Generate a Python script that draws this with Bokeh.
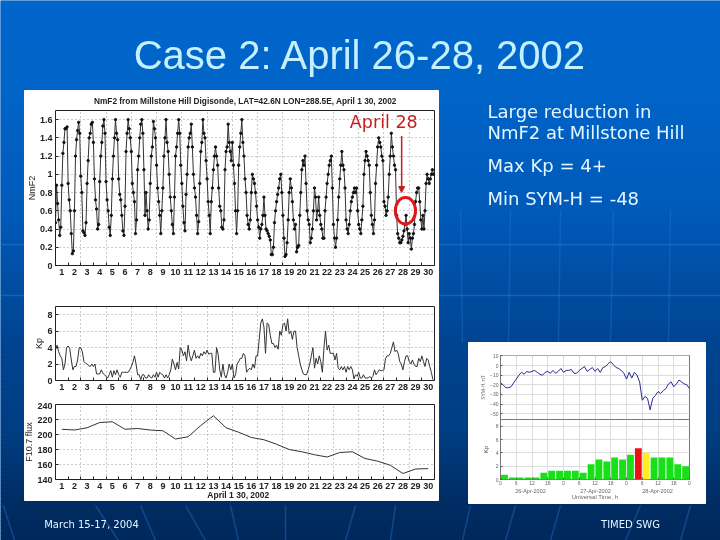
from bokeh.plotting import figure
from bokeh.embed import file_html
from bokeh.resources import INLINE
from bokeh.layouts import column
from bokeh.models import FixedTicker, Range1d, Arrow, NormalHead
from bokeh.core.properties import value
import numpy as np

# --- chart data -------------------------------------------------------------
NMF2 = [
 .47,.88,.68,.50,.33,.42,.88,1.23,1.35,1.50,1.50,1.52,
 .90,.72,.60,.35,.13,.16,.60,1.20,1.38,1.48,1.57,1.45,
 .98,.80,.38,.36,.33,.47,.90,1.15,1.40,1.45,1.55,1.57,
 1.35,.95,.72,.62,.40,.45,.92,1.20,1.35,1.53,1.60,1.45,
 .92,.72,.60,.42,.33,.55,.95,1.20,1.40,1.60,1.45,1.38,
 .95,.78,.72,.55,.38,.33,.65,1.25,1.45,1.60,1.50,1.40,
 1.25,.90,.80,.70,.35,.50,1.05,1.20,1.40,1.55,1.60,1.45,
 1.05,.55,.80,.60,.40,.50,.90,1.20,1.30,1.58,1.50,1.40,
 1.10,.85,.70,.55,.35,.60,.85,1.20,1.40,1.60,1.35,1.25,
 1.00,.75,.60,.45,.35,.75,1.20,1.30,1.45,1.60,1.45,1.10,
 .90,.65,.47,.38,.78,1.00,1.30,1.40,1.45,1.55,1.30,1.00,
 .85,.75,.55,.35,.48,.90,1.25,1.35,1.60,1.45,1.40,1.15,
 .95,.70,.55,.35,.70,.85,1.05,1.20,1.30,1.20,1.10,.85,
 .65,.60,.42,.40,.50,1.05,1.25,1.30,1.55,1.35,1.25,1.15,
 1.35,1.10,.90,.60,.35,.60,1.10,1.30,1.45,1.60,1.35,1.20,
 .95,.80,.55,.45,.40,.50,.80,1.00,.95,.90,.80,.65,
 .50,.42,.30,.40,.45,.55,.75,.55,.40,.38,.35,.32,
 .28,.12,.12,.20,.47,.60,.70,.78,.85,.95,1.00,.80,
 .55,.30,.10,.12,.25,.50,.80,.95,.85,.70,.50,.40,
 .45,.15,.20,.22,.55,.80,1.05,1.15,1.10,1.20,.90,.60,
 .50,.45,.25,.30,.40,.60,.85,.75,.50,.60,.75,.55,
 .45,.40,.30,.30,.60,.75,.90,1.00,1.10,1.15,1.20,.85,
 .45,.30,.20,.30,.50,.75,.95,1.10,1.25,1.10,1.05,.85,
 .50,.40,.35,.45,.60,.70,.75,.80,.85,.80,.85,.60,
 .45,.40,.35,.50,.65,1.00,1.15,1.25,1.20,1.15,1.10,.80,
 .55,.45,.35,.50,.90,1.10,1.30,1.40,1.35,1.30,1.20,1.15,
 .70,.65,.55,.60,.75,1.00,1.20,1.45,1.30,1.20,1.10,1.05,
 .55,.35,.30,.25,.25,.28,.32,.38,.45,.55,.40,.25,
 .35,.30,.18,.30,.35,.45,.70,.80,.85,.85,.70,.50,
 .40,.55,.40,.60,.90,1.00,.95,.90,.95,1.00,1.05,1.00,
]
KP = [
 3.7,4.3,3.5,3.0,2.7,1.3,2.0,4.0, 4.2,3.9,2.5,1.3,1.7,1.7,2.5,4.0,
 4.0,3.5,2.3,2.1,2.0,1.8,1.7,2.0, 1.7,2.0,.8,.8,.8,1.3,.9,.7,
 .5,.3,.7,1.2,.4,1.2,.7,1.3, .7,.4,1.0,1.0,1.0,1.0,1.0,1.3,
 1.7,2.2,3.0,2.0,.7,.7,.1,.7, .7,.3,.3,.7,.4,.3,.7,.4,
 1.0,.4,1.0,.8,.7,.3,.7,.3, .7,1.3,2.6,2.0,1.3,2.2,1.4,4.0,
 3.7,3.0,3.5,2.4,4.3,3.0,2.4,3.0, 3.7,2.7,3.0,2.7,3.3,3.0,3.5,3.2,
 3.7,3.2,3.3,3.3,1.0,1.0,4.0,3.2, 1.3,.4,2.0,.7,.3,1.0,2.0,1.3,
 2.0,.3,.7,2.0,2.3,2.7,2.7,3.3, 3.0,1.0,1.3,1.5,1.3,2.0,1.5,3.0,
 3.0,5.0,7.0,7.5,6.5,3.3,7.0,6.8, 5.5,4.5,4.5,4.0,4.3,3.8,6.0,5.5,
 6.8,7.0,6.0,7.5,5.7,6.0,5.0,6.0, 6.0,4.0,3.0,2.0,1.3,.8,.7,.7,
 1.3,2.0,3.0,4.0,1.5,2.7,2.0,3.0, 2.3,1.0,4.0,6.0,3.7,4.3,3.3,3.3,
 3.3,2.5,3.3,1.5,1.3,1.7,1.3,1.7, 1.0,1.7,1.3,1.7,1.3,.2,.7,.5,
 1.0,.3,.3,.7,.3,.3,.3,.5, .3,.5,1.3,.7,1.0,1.3,1.2,1.2,
 1.3,2.7,3.0,3.0,3.3,4.0,4.7,3.5, 3.7,3.3,2.3,2.0,1.3,2.3,3.0,3.0,
 2.3,2.0,2.5,2.0,1.7,1.7,2.7,2.3, 3.0,2.3,1.7,2.7,2.5,1.7,1.0,.1,
]
F107 = [207,206,209,216,217,207,208,206,205,194,197,212,225,209,203,
        196,193,187,180,177,173,170,176,177,168,164.5,159,148,154,154.5]
SYMH = [-18,-20,-23,-23,-22,-18,-14,-10,-7,-9,-6,-7,-6,-5,-7,-9,-10,-7,-6,-8,-5,-8,-6,-3,
        -7,-5,-5,-4,-8,-8,-5,-3,-1,-6,-4,-2,-6,-3,-7,-2,-1,2,4,1,-2,-3,-5,-8,
        -14,-7,-13,-7,-10,-17,-36,-32,-34,-46,-34,-31,-27,-29,-26,-24,-19,-17,-22,-19,-15,-17,-19,-20,-24]
KP3 = [.7,.3,.3,.3,.3,1,1.3,1.3,1.3,1.3,1,2.3,3,2.7,3.3,3,3.7,4.7,4,3.3,3.3,3.3,2.3,2]
HOUR_LABELS = ["0","6","12","18","0","6","12","18","0","6","12","18","0"]
DATES = ["26-Apr-2002", "27-Apr-2002", "28-Apr-2002"]

# --- helpers ----------------------------------------------------------------
LBL = "#222222"

def place(p, left, top):
    p.styles = {"position": "absolute", "left": f"{left}px", "top": f"{top}px"}
    p.frame_align = False
    return p

def panel(x0, x1, ytop, ybot, ylim, pad):
    pl, pr, pt, pb = pad
    return figure(width=x1 - x0 + pl + pr, height=ybot - ytop + pt + pb,
                  x_range=Range1d(1, 31), y_range=Range1d(*ylim),
                  toolbar_location=None, output_backend="svg",
                  min_border_left=pl, min_border_right=pr, min_border_top=pt, min_border_bottom=pb,
                  background_fill_alpha=0, border_fill_alpha=0,
                  outline_line_color="#222222", outline_line_width=1)

def day_axes(p):
    ax = p.xaxis[0]
    ax.ticker = FixedTicker(ticks=[d + .5 for d in range(1, 31)], minor_ticks=list(range(1, 32)))
    ax.major_label_overrides = {d + .5: str(d) for d in range(1, 31)}
    ax.major_tick_in = 0; ax.major_tick_out = 0
    ax.minor_tick_in = 3; ax.minor_tick_out = 0
    ax.minor_tick_line_color = "#222222"
    ax.axis_line_color = None
    ax.major_label_text_font = "Liberation Sans"
    ax.major_label_text_font_size = "9px"
    ax.major_label_text_font_style = "bold"
    ax.major_label_text_color = LBL
    ax.major_label_standoff = 3
    p.xgrid.ticker = FixedTicker(ticks=list(range(3, 31, 2)))
    p.xgrid.grid_line_color = "#999999"
    p.xgrid.grid_line_dash = "1 3"

def y_axes(p, ticks, fmt=None, label=None):
    ax = p.yaxis[0]
    ax.ticker = FixedTicker(ticks=ticks)
    if fmt: ax.major_label_overrides = fmt
    ax.major_tick_in = 3; ax.major_tick_out = 0
    ax.major_tick_line_color = "#222222"
    ax.minor_tick_line_color = None
    ax.axis_line_color = None
    ax.major_label_text_font = "Liberation Sans"
    ax.major_label_text_font_size = "9px"
    ax.major_label_text_font_style = "bold"
    ax.major_label_text_color = LBL
    ax.major_label_standoff = 3
    if label:
        ax.axis_label = label
        ax.axis_label_text_font = "Liberation Sans"
        ax.axis_label_text_font_size = "9px"
        ax.axis_label_text_font_style = "normal"
        ax.axis_label_text_color = LBL
        ax.axis_label_standoff = 0
    p.ygrid.ticker = FixedTicker(ticks=ticks)
    p.ygrid.grid_line_color = "#999999"
    p.ygrid.grid_line_dash = "1 3"

# --- slide background -------------------------------------------------------
bg = figure(width=720, height=540, x_range=Range1d(0, 720), y_range=Range1d(540, 0),
            toolbar_location=None, output_backend="svg",
            min_border_left=0, min_border_right=0, min_border_top=0, min_border_bottom=0,
            x_axis_location=None, y_axis_location=None,
            outline_line_color=None, background_fill_color="#0060c0")
bg.grid.visible = False
stops = [(0, (0, 102, 204)), (90, (0, 100, 200)), (210, (0, 90, 185)), (340, (0, 68, 145)),
         (430, (0, 62, 130)), (500, (0, 45, 100)), (540, (0, 40, 90))]
ys = np.arange(0, 540, 4)
bg.quad(left=0, right=720, top=ys, bottom=ys + 5, line_color=None,
        fill_color=["#%02x%02x%02x" % tuple(int(np.interp(y, [s[0] for s in stops], [s[1][c] for s in stops]))
                                             for c in range(3)) for y in ys])
# faint streaks of the slide template
bg.multi_line(xs=[[0, 720], [0, 720]], ys=[[244, 244], [295, 295]], line_color="#2a80e0", line_alpha=.45, line_width=1.5)
fan_top = [460, 510, 560, 613, 670]
fan_bot = [462, 508, 558, 610, 668]
bg.multi_line(xs=[[a, b] for a, b in zip(fan_top, fan_bot)], ys=[[210, 342]] * 5,
              line_color="#2a80e0", line_alpha=.3, line_width=1.5)
low_a = [3, 95, 140, 185, 230, 285, 355, 395, 470, 515, 560, 640, 690]
low_b = [14, 118, 155, 205, 238, 285, 345, 390, 462, 505, 550, 625, 680]
bg.multi_line(xs=[[a, b] for a, b in zip(low_a, low_b)], ys=[[505, 540]] * len(low_a),
              line_color="#2a80e0", line_alpha=.35, line_width=1.5)
# white picture panels
bg.quad(left=[24, 468], right=[438, 705], top=[90, 342], bottom=[500, 503], color="white")
# slide texts
bg.text(x=[360], y=[54], text=["Case 2: April 26-28, 2002"], text_align="center", text_baseline="middle",
        text_font=value("Liberation Sans"), text_font_size="40px", text_color="#c4f0ff")
bg.text(x=[487, 487, 487, 487], y=[111, 132, 165, 198],
        text=["Large reduction in", "NmF2 at Millstone Hill", "Max Kp = 4+", "Min SYM-H = -48"],
        text_align="left", text_baseline="middle", text_font=value("DejaVu Sans"),
        text_font_size="18px", text_color="#e4f6ff")
bg.text(x=[91, 630], y=[524, 524], text=["March 15-17, 2004", "TIMED SWG"], text_align="center",
        text_baseline="middle", text_font=value("DejaVu Sans"), text_font_size="10px", text_color="#e4f6ff")
# panel headings
bg.text(x=[246], y=[100], text=["NmF2 from Millstone Hill Digisonde, LAT=42.6N LON=288.5E, April 1  30, 2002"],
        text_align="center", text_baseline="middle", text_font=value("Liberation Sans"),
        text_font_size="8.3px", text_font_style="bold", text_color=LBL)
bg.text(x=[239], y=[494.5], text=["April 1  30, 2002"], text_align="center", text_baseline="middle",
        text_font=value("Liberation Sans"), text_font_size="8.5px", text_font_style="bold", text_color=LBL)

# --- NmF2 -------------------------------------------------------------------
PAD = (40, 4, 2, 18)
t_nm = 1 + np.arange(len(NMF2)) / 12
f1 = panel(55, 434, 110, 265, (0, 1.7), PAD)
f1.line(t_nm, NMF2, line_color="#333333", line_width=1)
f1.scatter(t_nm, NMF2, size=2.4, color="#111111")
day_axes(f1)
y_axes(f1, [0, .2, .4, .6, .8, 1, 1.2, 1.4, 1.6],
       {0: "0", .2: "0.2", .4: "0.4", .6: "0.6", .8: "0.8", 1: "1", 1.2: "1.2", 1.4: "1.4", 1.6: "1.6"}, "NmF2")
f1.text(x=[24.3], y=[1.57], text=["April 28"], text_align="left", text_baseline="middle",
        text_font=value("DejaVu Sans"), text_font_size="17.5px", text_color="#c41e1e")
f1.add_layout(Arrow(end=NormalHead(size=6, fill_color="#c41e1e", line_color="#c41e1e"),
                    x_start=28.4, y_start=1.42, x_end=28.4, y_end=.8, line_color="#c41e1e", line_width=1.5))
f1.ellipse(x=[28.7], y=[.6], width=[1.6], height=[.29], fill_alpha=0, line_color="#e01818", line_width=3)
place(f1, 55 - PAD[0], 110 - PAD[2])

# --- Kp ---------------------------------------------------------------------
t_kp = 1 + np.arange(len(KP)) / 8
f2 = panel(55, 434, 306, 380, (0, 9), PAD)
f2.line(t_kp, KP, line_color="#333333", line_width=1)
day_axes(f2)
y_axes(f2, [0, 2, 4, 6, 8], None, "Kp")
place(f2, 55 - PAD[0], 306 - PAD[2])

# --- F10.7 ------------------------------------------------------------------
t_f = np.arange(1, 31) + .5
f3 = panel(55, 434, 404, 479, (140, 240), PAD)
f3.line(t_f, F107, line_color="#333333", line_width=1)
day_axes(f3)
y_axes(f3, [140, 160, 180, 200, 220, 240], None, "F10.7 flux")
place(f3, 55 - PAD[0], 404 - PAD[2])

# --- SYM-H ------------------------------------------------------------------
SMALL = "#555555"
h_sym = np.arange(len(SYMH))
hour_ticks = list(range(0, 73, 6))
f4 = figure(width=189 + 30 + 4, height=64 + 2 + 2, x_range=Range1d(0, 72), y_range=Range1d(-56, 10.5),
            toolbar_location=None, output_backend="svg", min_border_left=30, min_border_right=4,
            min_border_top=2, min_border_bottom=2, background_fill_alpha=0, border_fill_alpha=0,
            outline_line_color="#777777")
f4.line(h_sym, SYMH, line_color="#2a2a96", line_width=1)
f4.xaxis.visible = False
f4.xgrid.ticker = FixedTicker(ticks=hour_ticks); f4.xgrid.grid_line_color = "#dddddd"
ya = f4.yaxis[0]
ya.ticker = FixedTicker(ticks=[10, 0, -10, -20, -30, -40, -50])
ya.major_label_text_font_size = "5px"; ya.major_label_text_color = "#666666"
ya.major_label_text_font = "Liberation Sans"; ya.major_label_standoff = 2
ya.major_tick_in = 2; ya.major_tick_out = 0; ya.minor_tick_line_color = None; ya.axis_line_color = None
ya.major_tick_line_color = SMALL
ya.axis_label = "SYM-H, nT"; ya.axis_label_text_font_size = "5px"; ya.axis_label_text_color = "#666666"
ya.axis_label_text_font = "Liberation Sans"; ya.axis_label_text_font_style = "normal"; ya.axis_label_standoff = 1
f4.ygrid.ticker = FixedTicker(ticks=[10, 0, -10, -20, -30, -40, -50]); f4.ygrid.grid_line_color = "#dddddd"
place(f4, 500 - 30, 355 - 2)

# --- Kp bars ----------------------------------------------------------------
f5 = figure(width=189 + 30 + 4, height=63 + 2 + 20, x_range=Range1d(0, 72), y_range=Range1d(0, 9),
            toolbar_location=None, output_backend="svg", min_border_left=30, min_border_right=4,
            min_border_top=2, min_border_bottom=20, background_fill_alpha=0, border_fill_alpha=0,
            outline_line_color="#777777")
colors = ["#16e016"] * len(KP3)
colors[KP3.index(max(KP3))] = "#e81414"
colors[KP3.index(4)] = "#ffee22"
f5.vbar(x=[1.5 + 3 * i for i in range(len(KP3))], top=KP3, bottom=0, width=2.6, fill_color=colors, line_color=None)
xa = f5.xaxis[0]
xa.ticker = FixedTicker(ticks=hour_ticks)
xa.major_label_overrides = {h: s for h, s in zip(hour_ticks, HOUR_LABELS)}
xa.major_label_text_font_size = "5px"; xa.major_label_text_color = "#666666"
xa.major_label_text_font = "Liberation Sans"; xa.major_label_standoff = 1
xa.major_tick_in = 2; xa.major_tick_out = 0; xa.minor_tick_line_color = None; xa.axis_line_color = None
xa.major_tick_line_color = SMALL
xa.axis_label = "Universal Time, h"; xa.axis_label_text_font_size = "6px"; xa.axis_label_text_color = "#666666"
xa.axis_label_text_font = "Liberation Sans"; xa.axis_label_text_font_style = "normal"; xa.axis_label_standoff = 6
ya = f5.yaxis[0]
ya.ticker = FixedTicker(ticks=[0, 2, 4, 6, 8])
ya.major_label_text_font_size = "5px"; ya.major_label_text_color = "#666666"
ya.major_label_text_font = "Liberation Sans"; ya.major_label_standoff = 2
ya.major_tick_in = 2; ya.major_tick_out = 0; ya.minor_tick_line_color = None; ya.axis_line_color = None
ya.major_tick_line_color = SMALL
ya.axis_label = "Kp"; ya.axis_label_text_font_size = "6px"; ya.axis_label_text_color = "#444444"
ya.axis_label_text_font = "Liberation Sans"; ya.axis_label_text_font_style = "normal"; ya.axis_label_standoff = 4
f5.xgrid.ticker = FixedTicker(ticks=hour_ticks); f5.xgrid.grid_line_color = "#dddddd"
f5.ygrid.ticker = FixedTicker(ticks=[0, 2, 4, 6, 8]); f5.ygrid.grid_line_color = "#dddddd"
place(f5, 500 - 30, 419 - 2)
# the date captions sit in the slide figure, under the bars' axis
bg.text(x=[530, 595, 657], y=[490.5, 490.5, 490.5], text=DATES, text_align="center", text_baseline="middle",
        text_font=value("Liberation Sans"), text_font_size="5.5px", text_color="#666666")

place(bg, 0, 0)
root = column(bg, f1, f2, f3, f4, f5)
root.styles = {"position": "fixed", "left": "0px", "top": "0px", "width": "720px", "height": "540px"}

open("out.html", "w").write(file_html(root, INLINE))
